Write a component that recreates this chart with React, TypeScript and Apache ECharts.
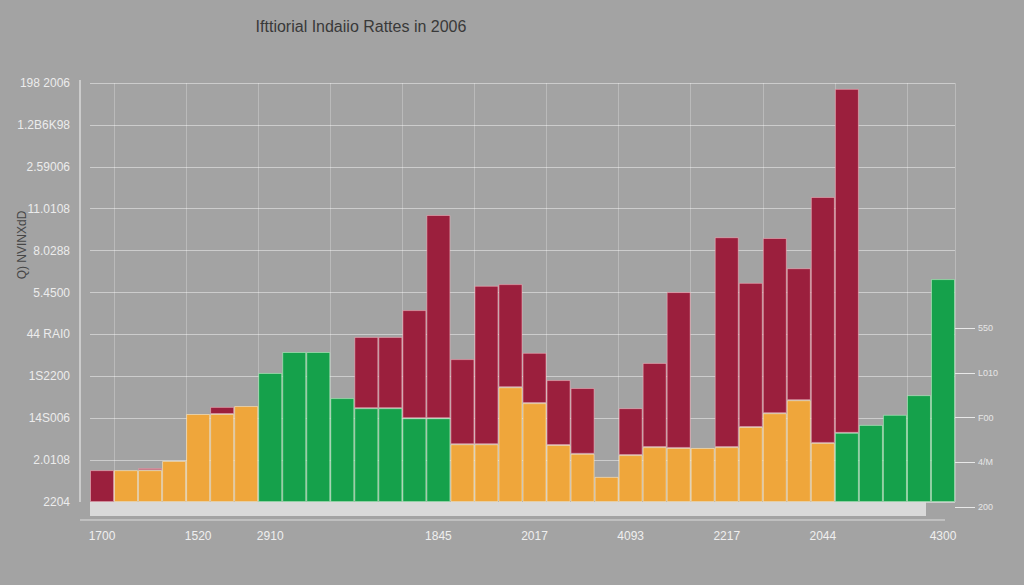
import React, { useEffect, useRef } from "react";
import * as echarts from "echarts";

const title = "Ifttiorial Indaiio Rattes in 2006";
const yAxisName = "Q) NVINXdD";
const yTickLabels = ["2204", "2.0108", "14S006", "1S2200", "44 RAI0", "5.4500", "8.0288", "11.0108", "2.59006", "1.2B6K98", "198 2006"];
const rightTickLabels = ["200", "4/M", "F00", "L010", "550"];
const categories = Array.from({ length: 36 }, (_, i) => "c" + i);
const xTickLabels: Record<number, string> = { 0: "1700", 4: "1520", 7: "2910", 14: "1845", 18: "2017", 22: "4093", 26: "2217", 30: "2044", 35: "4300" };

const orangeValues = ["-", 0.76, 0.76, 0.98, 2.1, 2.1, 2.29, "-", "-", "-", "-", "-", "-", "-", "-", 1.38, 1.38, 2.74, 2.36, 1.36, 1.15, 0.6, 1.12, 1.31, 1.29, 1.29, 1.31, 1.79, 2.12, 2.43, 1.41, "-", "-", "-", "-", "-"];
const greenValues = ["-", "-", "-", "-", "-", "-", "-", 3.08, 3.58, 3.58, 2.48, 2.24, 2.24, 2.0, 2.0, "-", "-", "-", "-", "-", "-", "-", "-", "-", "-", "-", "-", "-", "-", "-", "-", 1.65, 1.84, 2.08, 2.55, 5.32];
const redValues = [0.76, "-", 0.05, "-", "-", 0.17, "-", "-", "-", "-", "-", 1.7, 1.7, 2.58, 4.85, 2.03, 3.78, 2.46, 1.2, 1.55, 1.57, "-", 1.12, 2.01, 3.72, "-", 5.01, 3.44, 4.18, 3.15, 5.87, 8.21, "-", "-", "-", "-"];

export default function App() {
  const ref = useRef<HTMLDivElement>(null);
  useEffect(() => {
    if (!ref.current) return;
    const chart = echarts.init(ref.current, undefined, { renderer: "svg" });
    const font = "Liberation Sans, Arial, sans-serif";
    chart.setOption({
      animation: false,
      backgroundColor: "#a3a3a3",
      textStyle: { fontFamily: font },
      title: {
        text: title,
        left: 356,
        top: 13,
        textAlign: "center",
        textStyle: { color: "#393939", fontSize: 16, fontWeight: "normal", fontFamily: font },
      },
      grid: [
        { left: 90, right: 69, top: 83, bottom: 83, outerBoundsMode: "none", containLabel: false },
        { left: 955, right: 49, top: 328, bottom: 78, outerBoundsMode: "none", containLabel: false },
      ],
      xAxis: [
        {
          type: "category",
          gridIndex: 0,
          data: categories,
          axisLine: { show: false },
          axisTick: { show: false },
          axisLabel: {
            interval: 0,
            margin: 28,
            color: "#efefef",
            fontSize: 12,
            formatter: (_v: string, i: number) => xTickLabels[i] ?? "",
          },
          splitLine: {
            show: true,
            interval: (i: number) => i % 3 === 1,
            lineStyle: { color: "rgba(255,255,255,0.25)", width: 1 },
          },
        },
        {
          type: "value",
          gridIndex: 1,
          min: 0,
          max: 1,
          show: false,
        },
      ],
      yAxis: [
        {
          type: "value",
          gridIndex: 0,
          min: 0,
          max: 10,
          interval: 1,
          axisLine: { show: false },
          axisTick: { show: false },
          offset: 10,
          axisLabel: {
            color: "#ececec",
            fontSize: 12,
            margin: 10,
            formatter: (_v: number, i: number) => yTickLabels[i] ?? "",
          },
          splitLine: { show: true, lineStyle: { color: "rgba(255,255,255,0.45)", width: 1 } },
        },
        {
          type: "value",
          gridIndex: 1,
          position: "left",
          min: 0,
          max: 4,
          interval: 1,
          axisLine: { show: false },
          axisTick: { show: true, inside: true, length: 20, lineStyle: { color: "#e8e8e8" } },
          splitLine: { show: false },
          axisLabel: {
            inside: true,
            color: "#e6e6e6",
            fontSize: 9,
            margin: 23,
            formatter: (_v: number, i: number) => rightTickLabels[i] ?? "",
          },
        },
      ],
      graphic: [
        { type: "line", shape: { x1: 80, y1: 80, x2: 80, y2: 502 }, style: { stroke: "#e6e6e6", lineWidth: 1.2 }, z: 10 },
        { type: "rect", shape: { x: 90, y: 502, width: 836, height: 14 }, style: { fill: "#d9d9d9" }, z: 10 },
        { type: "line", shape: { x1: 80, y1: 520, x2: 945, y2: 520 }, style: { stroke: "#dcdcdc", lineWidth: 1 }, z: 10 },
        {
          type: "text",
          x: 22,
          y: 245,
          rotation: Math.PI / 2,
          style: { text: yAxisName, fill: "#474747", fontSize: 12, fontFamily: font, align: "center", verticalAlign: "middle" },
          z: 10,
        },
      ],
      series: [
        { name: "orange", type: "bar", stack: "s", data: orangeValues, barCategoryGap: "0%", itemStyle: { color: "#efa63b", borderColor: "rgba(255,240,210,0.55)", borderWidth: 1 } },
        { name: "green", type: "bar", stack: "s", data: greenValues, itemStyle: { color: "#15a14b", borderColor: "rgba(200,255,210,0.5)", borderWidth: 1 } },
        { name: "red", type: "bar", stack: "s", data: redValues, itemStyle: { color: "#9b1f3d", borderColor: "rgba(255,190,200,0.5)", borderWidth: 1 } },
      ],
    });
    return () => chart.dispose();
  }, []);
  return <div ref={ref} style={{ position: "fixed", left: 0, top: 0, width: 1024, height: 585 }} />;
}
